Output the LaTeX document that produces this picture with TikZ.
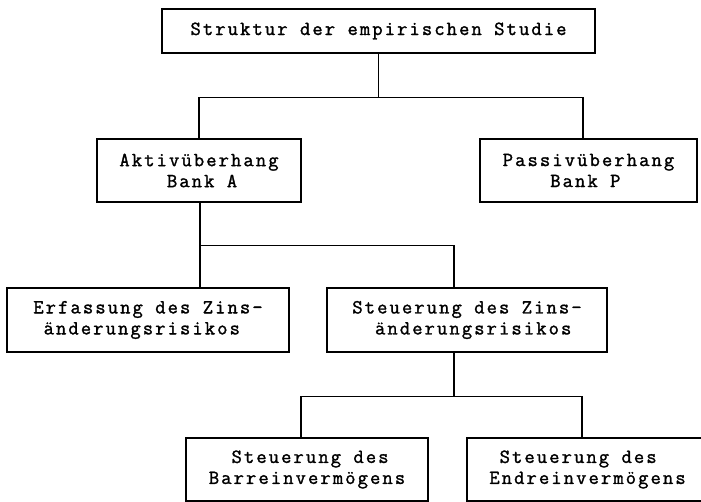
\documentclass[tikz,border=0pt]{standalone}
\usepackage{fontspec}
\newfontfamily\typefont{Latin Modern Mono}[LetterSpace=10.5, FakeBold=1.5]
\newcommand\boxfont{\typefont\fontsize{20}{21}\selectfont}
\begin{document}
\begin{tikzpicture}[
    x=1pt, y=-1pt,
    box/.style={draw, line width=1.1pt, inner sep=0pt, align=left, font=\boxfont},
    link/.style={line width=1.1pt}
]
    \useasboundingbox (0,0) rectangle (701,502);

    \node[box, minimum width=433, minimum height=44] (studie) at (378.5,31) {Struktur der empirischen Studie};
    \node[box, minimum width=204, minimum height=63] (aktiv) at (199,170.5) {Aktivüberhang\\\hphantom{xxxx}Bank A};
    \node[box, minimum width=217, minimum height=63] (passiv) at (588.5,170.5) {Passivüberhang\\\hphantom{xxxx}Bank P};
    \node[box, minimum width=282, minimum height=64] (erfassung) at (148,320) {Erfassung des Zins-\\\hphantom{x}änderungsrisikos};
    \node[box, minimum width=280, minimum height=64] (zins) at (467,320) {Steuerung des Zins-\\\hphantom{xx}änderungsrisikos};
    \node[box, minimum width=242, minimum height=63] (barrein) at (307,469.5) {\hphantom{xx}Steuerung des\\Barreinvermögens};
    \node[box, minimum width=241, minimum height=63] (endrein) at (587.5,469.5) {\hphantom{x}Steuerung des\\Endreinvermögens};

    \draw[link] (studie.south) -- ++(0,44) -| (aktiv.north);
    \draw[link] (studie.south) ++(0,44) -| ([xshift=-5.5pt]passiv.north);
    \draw[link] ([xshift=1pt]aktiv.south) -- ([xshift=1pt]aktiv.south |- erfassung.north);
    \draw[link] ([xshift=1pt]aktiv.south) ++(0,43) -| ([xshift=-13pt]zins.north);
    \draw[link] ([xshift=-13pt]zins.south) -- ++(0,44) -| ([xshift=-6pt]barrein.north);
    \draw[link] ([xshift=-13pt]zins.south) ++(0,44) -| ([xshift=-5.5pt]endrein.north);
\end{tikzpicture}
\end{document}
